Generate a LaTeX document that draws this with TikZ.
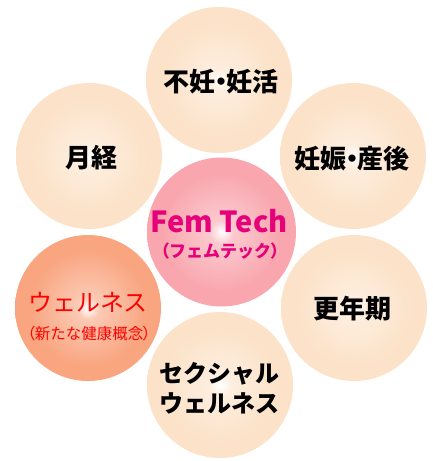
\documentclass[tikz,border=0pt]{standalone}
\usepackage{fontspec}
\setmainfont{Noto Sans CJK JP}
\definecolor{peach}{RGB}{252,226,200}
\definecolor{pinkc}{RGB}{249,166,174}
\definecolor{salmon}{RGB}{249,165,128}
\definecolor{magentatxt}{RGB}{230,0,122}
\definecolor{redtxt}{RGB}{255,0,0}
\pgfdeclareradialshading{ballpeach}{\pgfpoint{0bp}{0bp}}{color(0bp)=(white); color(4bp)=(white!40!peach); color(20bp)=(peach); color(50bp)=(peach)}
\pgfdeclareradialshading{ballpink}{\pgfpoint{0bp}{0bp}}{color(0bp)=(white); color(4bp)=(white!40!pinkc); color(20bp)=(pinkc); color(50bp)=(pinkc)}
\pgfdeclareradialshading{ballsalmon}{\pgfpoint{0bp}{0bp}}{color(0bp)=(white); color(4bp)=(white!40!salmon); color(20bp)=(salmon); color(50bp)=(salmon)}
\newcommand{\ndot}{\kern-0.3em・\kern-0.3em}
\newcommand{\lpar}{\kern-0.4em（\kern-0.05em}
\newcommand{\rpar}{\kern-0.05em）\kern-0.4em}
\tikzset{
  outerball/.style={circle, minimum size=146pt, inner sep=0pt, shading=ballpeach},
  centerball/.style={circle, minimum size=149pt, inner sep=0pt, shading=ballpink},
  wellball/.style={circle, minimum size=146pt, inner sep=0pt, shading=ballsalmon},
  blacklabel/.style={font=\bfseries\fontsize{26}{30}\selectfont, text=black, align=center},
  kanalabel/.style={font=\bfseries\fontsize{24}{30}\selectfont, text=black, align=center},
}
\begin{document}
\begin{tikzpicture}[x=1pt,y=-1pt]
\useasboundingbox[fill=white] (0,0) rectangle (433,461);
\node[centerball] (c) at (221.5,232) {};
\node[outerball] (top) at (219,80) {};
\node[outerball] (ul) at (89,156) {};
\node[outerball] (ur) at (353,156) {};
\node[wellball] (ll) at (88,308) {};
\node[outerball] (lr) at (354,308) {};
\node[outerball] (bot) at (220,385) {};
% labels
\node[blacklabel] (ttop) at (221,82) {不妊\ndot 妊活};
\node[blacklabel] (tul) at (91,158) {月経};
\node[blacklabel] (tur) at (352,159) {妊娠\ndot 産後};
\node[blacklabel] (tlr) at (352,309) {更年期};
\node[kanalabel] (tbot) at (219,388) {セクシャル\\ウェルネス};
\node[font=\bfseries\fontsize{29}{30}\selectfont, text=magentatxt] (tc1) at (219,221) {Fem Tech};
\node[font=\bfseries\fontsize{17}{18}\selectfont, text=magentatxt, inner xsep=0pt] (tc2) at (220,251) {\lpar フェムテック\rpar};
\node[font=\fontsize{24}{28}\selectfont, text=redtxt] (tl1) at (88,302) {ウェルネス};
\node[font=\fontsize{15.5}{16}\selectfont, text=redtxt, inner xsep=0pt] (tl2) at (89,334) {\lpar 新たな健康概念\rpar};
\end{tikzpicture}
\end{document}
